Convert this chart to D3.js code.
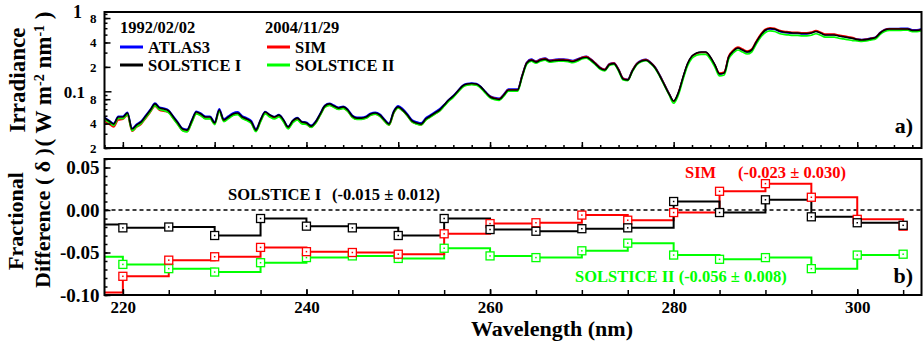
<!DOCTYPE html>
<html>
<head>
<meta charset="utf-8">
<script src="https://cdn.jsdelivr.net/npm/d3@7"></script>
<style>
  body { margin: 0; background: #fff; }
  text { font-family: "Liberation Serif", "Times New Roman", serif; font-weight: bold; }
</style>
</head>
<body>
<div id="chart"></div>
<script>
// wavelength grid of the irradiance spectra (nm)
const wavelength = d3.range(218, 307.25, 0.5);

// irradiance, W m-2 nm-1
const atlas3 = [
  .0476,.0438,.0402,.0490,.0492,.0551,.0350,.0392,.0428,.0506,
  .0600,.0713,.0635,.0618,.0583,.0492,.0415,.0350,.0340,.0440,
  .0567,.0536,.0492,.0492,.0420,.0606,.0457,.0497,.0541,.0557,
  .0497,.0470,.0432,.0343,.0447,.0562,.0515,.0487,.0515,.0447,
  .0367,.0435,.0473,.0423,.0415,.0380,.0427,.0535,.0672,.0711,
  .0672,.0634,.0653,.0599,.0506,.0478,.0478,.0492,.0536,.0551,
  .0521,.0452,.0403,.0568,.0661,.0606,.0526,.0444,.0420,.0407,
  .0470,.0511,.0557,.0606,.0685,.0789,.0884,.1019,.1175,.1242,
  .1260,.1242,.1141,.0991,.0879,.0835,.0816,.0922,.1063,.1063,
  .1063,.1582,.2287,.2488,.2356,.2493,.2565,.2423,.2458,.2493,
  .2493,.2458,.2391,.2493,.2629,.2688,.2483,.2219,.1962,.1870,
  .2187,.2247,.1870,.1451,.1409,.1817,.2217,.2412,.2481,.2280,
  .1978,.1577,.1221,.0945,.0751,.0942,.1445,.2149,.2693,.2934,
  .3020,.3020,.2619,.2089,.1641,.1685,.2653,.3149,.3428,.3240,
  .3059,.3240,.4062,.4960,.5632,.5879,.5790,.5474,.5320,.5246,
  .5172,.5172,.5098,.5098,.5277,.5504,.5277,.4985,.4985,.4985,
  .4845,.4748,.4637,.4536,.4415,.4354,.4415,.4537,.4669,.5314,
  .5786,.5948,.5948,.5948,.5965,.5965,.5721,.5721,.5884
];
const solsticeI = [
  .0468,.0431,.0395,.0482,.0482,.0540,.0343,.0384,.0419,.0496,
  .0588,.0698,.0622,.0605,.0572,.0482,.0407,.0343,.0333,.0431,
  .0556,.0525,.0482,.0482,.0407,.0588,.0443,.0482,.0525,.0540,
  .0482,.0456,.0419,.0333,.0443,.0556,.0510,.0482,.0510,.0443,
  .0363,.0431,.0468,.0419,.0407,.0373,.0419,.0525,.0659,.0698,
  .0659,.0622,.0641,.0588,.0496,.0468,.0468,.0482,.0525,.0540,
  .0510,.0443,.0395,.0556,.0641,.0588,.0510,.0431,.0407,.0395,
  .0456,.0496,.0540,.0588,.0678,.0781,.0875,.1009,.1163,.1230,
  .1248,.1230,.1130,.0981,.0858,.0815,.0797,.0900,.1038,.1038,
  .1038,.1545,.2233,.2430,.2296,.2430,.2500,.2362,.2396,.2430,
  .2430,.2396,.2330,.2430,.2572,.2630,.2430,.2171,.1920,.1830,
  .2140,.2199,.1830,.1420,.1380,.1780,.2171,.2362,.2430,.2233,
  .1937,.1545,.1196,.0926,.0759,.0952,.1460,.2171,.2720,.2964,
  .3050,.3050,.2645,.2110,.1636,.1680,.2645,.3140,.3418,.3230,
  .3050,.3230,.4050,.4945,.5700,.5950,.5860,.5540,.5385,.5310,
  .5235,.5235,.5160,.5160,.5235,.5460,.5235,.4945,.4945,.4945,
  .4807,.4710,.4600,.4500,.4350,.4290,.4350,.4470,.4600,.5235,
  .5700,.5860,.5860,.5860,.5860,.5860,.5620,.5620,.5780
];
const sim = [
  .0430,.0396,.0363,.0443,.0454,.0509,.0323,.0362,.0395,.0467,
  .0554,.0658,.0586,.0570,.0549,.0463,.0391,.0329,.0320,.0414,
  .0534,.0504,.0463,.0463,.0396,.0573,.0431,.0469,.0511,.0526,
  .0469,.0444,.0408,.0324,.0428,.0537,.0493,.0466,.0493,.0428,
  .0351,.0416,.0452,.0405,.0394,.0361,.0406,.0509,.0639,.0676,
  .0639,.0603,.0621,.0570,.0481,.0454,.0454,.0468,.0509,.0524,
  .0495,.0430,.0383,.0539,.0626,.0574,.0498,.0421,.0398,.0386,
  .0446,.0485,.0528,.0574,.0666,.0767,.0859,.0991,.1142,.1208,
  .1226,.1208,.1110,.0963,.0864,.0821,.0803,.0906,.1045,.1045,
  .1045,.1556,.2249,.2447,.2319,.2454,.2525,.2386,.2420,.2454,
  .2454,.2420,.2353,.2454,.2613,.2672,.2469,.2206,.1951,.1859,
  .2174,.2234,.1859,.1443,.1392,.1796,.2191,.2383,.2452,.2253,
  .1954,.1559,.1207,.0934,.0749,.0940,.1441,.2143,.2685,.2925,
  .3010,.3010,.2611,.2083,.1677,.1722,.2711,.3219,.3503,.3311,
  .3126,.3311,.4151,.5069,.5808,.6063,.5971,.5645,.5487,.5411,
  .5334,.5334,.5258,.5258,.5355,.5586,.5355,.5059,.5059,.5059,
  .4918,.4818,.4706,.4604,.4367,.4307,.4367,.4488,.4618,.5256,
  .5723,.5883,.5883,.5883,.5854,.5854,.5614,.5614,.5774
];
const solsticeII = [
  .0450,.0414,.0380,.0463,.0461,.0516,.0328,.0367,.0401,.0474,
  .0562,.0667,.0595,.0578,.0543,.0458,.0387,.0326,.0316,.0409,
  .0528,.0499,.0458,.0458,.0389,.0562,.0424,.0461,.0502,.0516,
  .0461,.0436,.0401,.0318,.0420,.0527,.0483,.0456,.0483,.0420,
  .0344,.0408,.0443,.0397,.0392,.0359,.0403,.0505,.0634,.0671,
  .0634,.0598,.0617,.0566,.0479,.0452,.0452,.0466,.0507,.0522,
  .0493,.0428,.0382,.0537,.0623,.0572,.0496,.0419,.0396,.0384,
  .0443,.0482,.0525,.0572,.0654,.0754,.0844,.0974,.1122,.1187,
  .1204,.1187,.1090,.0947,.0831,.0789,.0772,.0871,.1005,.1005,
  .1005,.1496,.2162,.2352,.2223,.2352,.2420,.2286,.2319,.2352,
  .2352,.2319,.2255,.2352,.2503,.2559,.2364,.2112,.1868,.1781,
  .2082,.2140,.1781,.1382,.1355,.1748,.2132,.2319,.2386,.2193,
  .1902,.1517,.1174,.0909,.0712,.0893,.1369,.2036,.2551,.2780,
  .2861,.2861,.2481,.1979,.1546,.1588,.2500,.2967,.3230,.3052,
  .2882,.3052,.3827,.4673,.5318,.5551,.5467,.5169,.5024,.4954,
  .4884,.4884,.4814,.4814,.4916,.5127,.4916,.4643,.4643,.4643,
  .4514,.4423,.4319,.4226,.4180,.4123,.4180,.4296,.4421,.5031,
  .5478,.5631,.5631,.5631,.5655,.5655,.5423,.5423,.5578
];

// fractional difference, 5 nm bins (value holds from bin start to next bin)
const binWl = [215,220,225,230,235,240,245,250,255,260,265,270,275,280,285,290,295,300,305];
const dSolsticeI  = [-0.017,-0.021,-0.020,-0.030,-0.010,-0.019,-0.021,-0.030,-0.010,-0.023,-0.025,-0.022,-0.021, 0.010,-0.003, 0.012,-0.008,-0.015,-0.018];
const dSim        = [-0.097,-0.078,-0.059,-0.055,-0.044,-0.049,-0.050,-0.052,-0.028,-0.016,-0.015,-0.006,-0.012,-0.003, 0.022, 0.031, 0.015,-0.011,-0.019];
const dSolsticeII = [-0.055,-0.064,-0.069,-0.073,-0.062,-0.056,-0.054,-0.057,-0.045,-0.054,-0.056,-0.048,-0.039,-0.053,-0.058,-0.056,-0.069,-0.053,-0.052];

// tick values
const topMinorTicks = [0.02,0.03,0.04,0.05,0.06,0.07,0.08,0.09,0.2,0.3,0.4,0.5,0.6,0.7,0.8,0.9];
const topLabelTicks = [0.8,0.4,0.2,0.08,0.04,0.02];
const botLabelTicks = [0.05,0,-0.05,-0.10];
const botMinorTicks = d3.range(-0.10, 0.0601, 0.01);
const xMinorTop = d3.range(218, 307, 2);
const xMajor = [220,230,240,250,260,270,280,290,300];
const xMinorBot = d3.range(220, 306, 5);
const xLabelTicks = [220,240,260,280,300];

const W = 923, H = 345;
const left = 104.5, right = 921.5;
const topP = { top: 12, bottom: 148 };
const botP = { top: 159, bottom: 295 };

const svg = d3.select("#chart").append("svg")
  .attr("width", W).attr("height", H)
  .style("background", "#fff");

const x = d3.scaleLinear().domain([218, 307]).range([left, right]);
const yTop = d3.scaleLog().domain([0.02, 0.95]).range([topP.bottom, topP.top]);
const yBot = d3.scaleLinear().domain([-0.10, 0.06]).range([botP.bottom, botP.top]);

const defs = svg.append("defs");
defs.append("clipPath").attr("id", "clipTop").append("rect")
  .attr("x", left).attr("y", topP.top).attr("width", right - left).attr("height", topP.bottom - topP.top);
defs.append("clipPath").attr("id", "clipBot").append("rect")
  .attr("x", left).attr("y", botP.top).attr("width", right - left).attr("height", botP.bottom - botP.top);

function styleAxis(g, size) {
  g.select(".domain").remove();
  g.attr("font-family", null).attr("font-size", null);
  g.selectAll("line").attr("stroke", "#000").attr("stroke-width", 1.5);
  g.selectAll("text").style("font-size", size + "px").attr("fill", "#000");
}

// ---------- top panel ----------
var lineTop = d3.line()
  .x(function(d, i) { return x(wavelength[i]); })
  .y(function(d) { return yTop(d); })
  .curve(d3.curveMonotoneX);

var spectra = [
  { vals: atlas3, color: "#0000ff" },
  { vals: sim, color: "#ff0000" },
  { vals: solsticeII, color: "#00ff00" },
  { vals: solsticeI, color: "#000000" }
];
var gTop = svg.append("g").attr("clip-path", "url(#clipTop)");
spectra.forEach(function(s) {
  gTop.append("path").datum(s.vals)
    .attr("fill", "none").attr("stroke", s.color)
    .attr("stroke-width", 1.7).attr("d", lineTop);
});

svg.append("g").attr("transform", "translate(" + left + ",0)")
  .call(d3.axisLeft(yTop).tickValues(topMinorTicks).tickSize(-3).tickFormat(""))
  .call(styleAxis, 12);
svg.append("g").attr("transform", "translate(" + left + ",0)")
  .call(d3.axisLeft(yTop).tickValues(topLabelTicks).tickSize(-6).tickPadding(8)
    .tickFormat(function(d) { return d >= 0.1 ? Math.round(d * 10) : Math.round(d * 100); }))
  .call(styleAxis, 13);
svg.append("g").attr("transform", "translate(" + left + ",0)")
  .call(d3.axisLeft(yTop).tickValues([0.1]).tickSize(-7).tickFormat(""))
  .call(styleAxis, 12);
svg.append("text").attr("x", 82).attr("y", 18).attr("text-anchor", "end")
  .style("font-size", "18px").text("1");
svg.append("text").attr("x", 85).attr("y", 98).attr("text-anchor", "end")
  .style("font-size", "17px").text("0.1");

svg.append("g").attr("transform", "translate(0," + topP.bottom + ")")
  .call(d3.axisBottom(x).tickValues(xMinorTop).tickSize(-3).tickFormat(""))
  .call(styleAxis, 12);
svg.append("g").attr("transform", "translate(0," + topP.bottom + ")")
  .call(d3.axisBottom(x).tickValues(xMajor).tickSize(-6).tickFormat(""))
  .call(styleAxis, 12);

svg.append("rect").attr("x", left).attr("y", topP.top)
  .attr("width", right - left).attr("height", topP.bottom - topP.top)
  .attr("fill", "none").attr("stroke", "#000").attr("stroke-width", 2);

// legend
var legend = [
  { label: "ATLAS3", color: "#0000ff", lx: 120, ly: 47 },
  { label: "SOLSTICE I", color: "#000000", lx: 120, ly: 65 },
  { label: "SIM", color: "#ff0000", lx: 267, ly: 47 },
  { label: "SOLSTICE II", color: "#00ff00", lx: 267, ly: 65 }
];
svg.append("text").attr("x", 120).attr("y", 33).style("font-size", "16.5px").text("1992/02/02");
svg.append("text").attr("x", 265).attr("y", 33).style("font-size", "16.5px").text("2004/11/29");
legend.forEach(function(d) {
  svg.append("line").attr("x1", d.lx).attr("x2", d.lx + 23).attr("y1", d.ly).attr("y2", d.ly)
    .attr("stroke", d.color).attr("stroke-width", 3);
  svg.append("text").attr("x", d.lx + 28).attr("y", d.ly + 5.5)
    .style("font-size", "16.5px").text(d.label);
});
svg.append("text").attr("x", 913).attr("y", 133).attr("text-anchor", "end")
  .style("font-size", "22px").text("a)");

// ---------- bottom panel ----------
svg.append("line").attr("x1", left).attr("x2", right)
  .attr("y1", yBot(0)).attr("y2", yBot(0))
  .attr("stroke", "#000").attr("stroke-width", 1.5).attr("stroke-dasharray", "4,3");

var stepLine = d3.line()
  .x(function(d, i) { return x(binWl[i]); })
  .y(function(d) { return yBot(d); })
  .curve(d3.curveStepAfter);

var diffs = [
  { vals: dSolsticeII, color: "#00ff00" },
  { vals: dSim, color: "#ff0000" },
  { vals: dSolsticeI, color: "#000000" }
];
var gBot = svg.append("g").attr("clip-path", "url(#clipBot)");
diffs.forEach(function(s) {
  gBot.append("path").datum(s.vals)
    .attr("fill", "none").attr("stroke", s.color)
    .attr("stroke-width", 2).attr("d", stepLine);
});
diffs.forEach(function(s) {
  var pts = s.vals.map(function(v, i) { return [binWl[i], v]; }).filter(function(p) { return p[0] >= 218; });
  var m = gBot.append("g").selectAll("g").data(pts).enter().append("g")
    .attr("transform", function(p) { return "translate(" + x(p[0]) + "," + yBot(p[1]) + ")"; });
  m.append("rect").attr("x", -4).attr("y", -4).attr("width", 8).attr("height", 8)
    .attr("fill", "#fff").attr("stroke", s.color).attr("stroke-width", 1.3);
  m.append("rect").attr("x", -0.75).attr("y", -0.75).attr("width", 1.5).attr("height", 1.5)
    .attr("fill", s.color);
});

var fmt = function(d) { return d3.format(".2f")(d).replace("\u2212", "-"); };
svg.append("g").attr("transform", "translate(" + left + ",0)")
  .call(d3.axisLeft(yBot).tickValues(botMinorTicks).tickSize(-3).tickFormat(""))
  .call(styleAxis, 12);
svg.append("g").attr("transform", "translate(" + left + ",0)")
  .call(d3.axisLeft(yBot).tickValues(botLabelTicks).tickSize(-6).tickPadding(5).tickFormat(fmt))
  .call(styleAxis, 19);

svg.append("g").attr("transform", "translate(0," + botP.bottom + ")")
  .call(d3.axisBottom(x).tickValues(xMinorBot).tickSize(-5).tickFormat(""))
  .call(styleAxis, 12);
svg.append("g").attr("transform", "translate(0," + botP.bottom + ")")
  .call(d3.axisBottom(x).tickValues(xLabelTicks).tickSize(-6).tickPadding(6).tickFormat(d3.format("d")))
  .call(styleAxis, 17);

svg.append("rect").attr("x", left).attr("y", botP.top)
  .attr("width", right - left).attr("height", botP.bottom - botP.top)
  .attr("fill", "none").attr("stroke", "#000").attr("stroke-width", 2);

// annotations
svg.append("text").attr("x", 228).attr("y", 200).style("font-size", "16.5px").text("SOLSTICE I");
svg.append("text").attr("x", 332).attr("y", 200).style("font-size", "16.5px").text("(-0.015 \u00b1 0.012)");
svg.append("text").attr("x", 685).attr("y", 178).attr("fill", "#ff0000").style("font-size", "16.5px").text("SIM");
svg.append("text").attr("x", 738).attr("y", 178).attr("fill", "#ff0000").style("font-size", "16.5px").text("(-0.023 \u00b1 0.030)");
svg.append("text").attr("x", 575).attr("y", 282).attr("fill", "#00ff00").style("font-size", "16.5px").text("SOLSTICE II (-0.056 \u00b1 0.008)");
svg.append("text").attr("x", 913).attr("y", 283).attr("text-anchor", "end")
  .style("font-size", "22px").text("b)");

// axis titles
svg.append("text").attr("x", 552).attr("y", 336).attr("text-anchor", "middle")
  .style("font-size", "22px").text("Wavelength (nm)");

svg.append("text").attr("transform", "translate(25,80) rotate(-90)")
  .attr("text-anchor", "middle").style("font-size", "23px").text("Irradiance");
var unit = svg.append("text").attr("transform", "translate(51,79) rotate(-90)")
  .attr("text-anchor", "middle").style("font-size", "23px");
unit.append("tspan").text("( W m");
unit.append("tspan").attr("baseline-shift", "super").style("font-size", "14px").text("-2");
unit.append("tspan").text(" nm");
unit.append("tspan").attr("baseline-shift", "super").style("font-size", "14px").text("-1");
unit.append("tspan").text(" )");

svg.append("text").attr("transform", "translate(23,221) rotate(-90)")
  .attr("text-anchor", "middle").style("font-size", "22px").text("Fractional");
svg.append("text").attr("transform", "translate(50,218) rotate(-90)")
  .attr("text-anchor", "middle").style("font-size", "22px").text("Difference ( \u03b4 )");
</script>
</body>
</html>
